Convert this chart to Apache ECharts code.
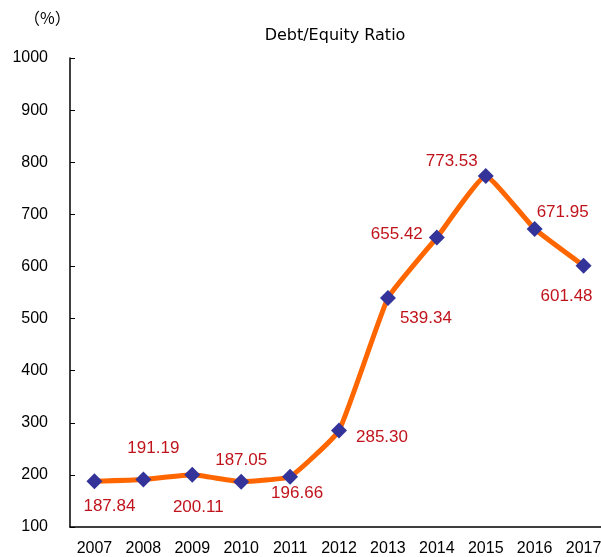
<!DOCTYPE html>
<html><head><meta charset="utf-8">
<script src="https://cdn.jsdelivr.net/npm/echarts@6/dist/echarts.min.js"></script>
<style>html,body{margin:0;padding:0;background:#fff;overflow:hidden}#c{width:612px;height:557px}</style>
</head><body><div id="c"></div>
<script>
const years = ['2007','2008','2009','2010','2011','2012','2013','2014','2015','2016','2017'];
const ratio = [187.84,191.19,200.11,187.05,196.66,285.30,539.34,655.42,773.53,671.95,601.48];
const yTicks = {min:100, max:1000, interval:100};
const titleText = 'Debt/Equity Ratio';
const unitText = '（%）';

const labelOffsets = [[15,25],[10,-31],[6,32],[0,-21],[7,17],[43,7],[38,20],[-40,-3],[-34,-15],[28,-17],[-17,31]];

const chart = echarts.init(document.getElementById('c'));
const font = 'Arial, "Liberation Sans", sans-serif';
chart.setOption({
  animation:false,
  backgroundColor:'#fff',
  graphic:[
    {type:'text', x:335, y:36, style:{text:titleText, font:'16px "DejaVu Sans", sans-serif', fill:'#000', align:'center', verticalAlign:'middle'}},
    {type:'text', left:24, top:10, style:{text:unitText, font:'16px "Noto Sans CJK JP", sans-serif', fill:'#000'}}
  ],
  grid:{left:70, top:58, width:538, height:470},
  xAxis:{type:'category', data:years, boundaryGap:true,
    axisLine:{lineStyle:{color:'#000', width:1.5}},
    axisTick:{inside:true, length:5, lineStyle:{color:'#000'}},
    axisLabel:{color:'#000', fontSize:16, fontFamily:font, margin:14}},
  yAxis:{type:'value', min:yTicks.min, max:yTicks.max, interval:yTicks.interval,
    splitLine:{show:false},
    axisLine:{show:true, lineStyle:{color:'#000', width:1.5}},
    axisTick:{show:true, inside:true, length:5, lineStyle:{color:'#000'}},
    axisLabel:{color:'#000', fontSize:16, fontFamily:font, margin:22, formatter:v=>String(v)}},
  series:[{
    type:'line', smooth:0.12,
    data: ratio.map((v,i)=>({value:v, label:{offset:labelOffsets[i]}})),
    lineStyle:{color:'#ff6600', width:5},
    symbol:'diamond', symbolSize:16,
    itemStyle:{color:'#333399'},
    label:{show:true, position:'inside', color:'#c0141c', fontSize:17, fontFamily:font,
      formatter:p=>p.value.toFixed(2)}
  }]
});
</script></body></html>
